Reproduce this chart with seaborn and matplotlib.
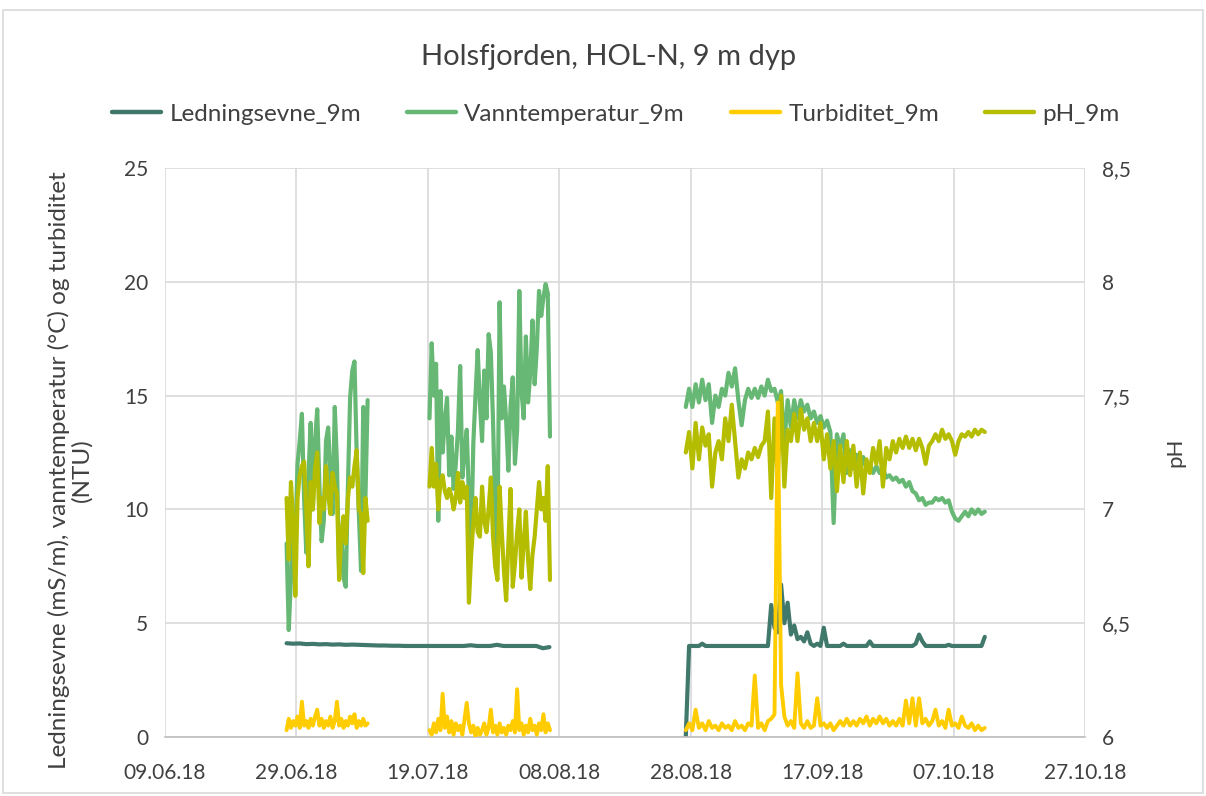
import numpy as np
import pandas as pd
import matplotlib
matplotlib.use("Agg")
import matplotlib.pyplot as plt
import matplotlib.dates as mdates
from matplotlib.lines import Line2D
from matplotlib.patches import Rectangle
import seaborn as sns

# ==================== data ====================
# periods: (start, step) for each logger deployment
P1 = ("2018-06-27 12:00", "8h")
P2 = ("2018-07-19 06:00", "8h")
P3 = ("2018-08-27 06:00", "12h")
P_COND1 = ("2018-06-27 12:00", "1D")

temp_p1 = [8.5, 4.7, 7.0, 9.5, 8.6, 12.0, 13.0, 14.2, 10.5, 8.1, 11.5, 13.8, 10.0,
           13.0, 14.4, 11.0, 8.6, 9.5, 13.0, 13.6, 11.5, 9.8, 14.5, 12.0, 7.2, 9.0,
           7.0, 6.6, 11.0, 14.9, 16.1, 16.5, 12.5, 9.8, 7.3, 14.5, 10.5, 14.8]
temp_p2 = [14.0, 17.3, 15.0, 16.4, 9.5, 15.2, 12.5, 13.9, 14.9, 11.5, 13.2, 10.9,
           12.0, 13.5, 16.3, 11.4, 12.5, 13.5, 10.5, 8.3, 12.9, 15.0, 17.0, 14.7,
           13.0, 16.1, 14.0, 17.7, 16.9, 13.9, 10.0, 8.2, 19.1, 14.0, 15.4, 13.9,
           11.7, 14.5, 15.8, 12.0, 13.5, 19.6, 15.2, 14.0, 17.6, 14.7, 16.0, 18.3,
           15.5, 17.1, 19.6, 18.5, 19.3, 19.9, 19.5, 13.2]
temp_p3 = [14.5, 15.3, 14.5, 15.5, 14.7, 15.7, 14.8, 15.5, 13.8, 15.0, 14.5, 15.3,
           15.0, 16.0, 15.4, 16.2, 14.8, 13.7, 14.8, 15.3, 14.9, 15.3, 14.9, 15.4,
           15.0, 15.7, 15.2, 15.3, 14.7, 15.2, 12.9, 14.8, 13.6, 14.8, 14.0, 14.8,
           14.3, 14.6, 14.0, 14.3, 13.8, 14.1, 13.6, 13.9, 13.4, 9.4, 13.3, 12.7,
           13.3, 11.6, 12.6, 11.8, 12.4, 11.7, 12.3, 11.8, 12.0, 11.6, 11.9, 11.6,
           11.8, 11.4, 11.5, 11.3, 11.4, 11.2, 11.3, 11.0, 11.2, 10.8, 10.7, 10.4,
           10.5, 10.2, 10.3, 10.3, 10.5, 10.4, 10.5, 10.3, 10.4, 9.9, 9.6, 9.5,
           9.7, 9.9, 9.7, 10.0, 9.8, 10.0, 9.8, 9.9]

ph_p1 = [7.05, 6.78, 7.12, 6.95, 6.62, 7.05, 7.15, 7.19, 7.21, 7.00, 6.75, 7.12,
         7.00, 7.18, 7.25, 6.94, 7.05, 7.00, 7.19, 7.07, 6.98, 7.16, 7.10, 7.07,
         6.69, 6.90, 6.97, 6.85, 7.05, 7.14, 7.10, 7.19, 7.26, 7.00, 6.98, 6.72,
         7.05, 6.95]
ph_p2 = [7.10, 7.27, 7.10, 7.20, 7.00, 7.12, 7.15, 7.08, 7.05, 7.09, 7.06, 7.00,
         7.05, 7.16, 7.03, 7.12, 7.05, 7.10, 6.59, 6.80, 6.94, 7.05, 6.90, 6.88,
         7.10, 6.95, 6.90, 7.00, 7.14, 6.88, 6.75, 6.69, 7.10, 6.90, 6.73, 6.60,
         6.85, 7.09, 6.66, 6.76, 6.90, 7.00, 6.70, 6.85, 6.99, 6.78, 6.65, 6.80,
         6.88, 7.00, 7.12, 7.00, 7.05, 6.95, 7.19, 6.69]
ph_p3 = [7.25, 7.34, 7.18, 7.38, 7.22, 7.36, 7.28, 7.33, 7.10, 7.25, 7.30, 7.22,
         7.40, 7.30, 7.46, 7.30, 7.14, 7.22, 7.18, 7.25, 7.22, 7.27, 7.23, 7.28,
         7.30, 7.43, 7.05, 7.40, 7.15, 7.50, 7.10, 7.35, 7.30, 7.42, 7.30, 7.44,
         7.35, 7.40, 7.30, 7.38, 7.30, 7.38, 7.22, 7.33, 7.18, 7.30, 7.08, 7.28,
         7.12, 7.30, 7.15, 7.28, 7.10, 7.25, 7.07, 7.22, 7.16, 7.27, 7.20, 7.30,
         7.10, 7.27, 7.22, 7.30, 7.25, 7.31, 7.27, 7.32, 7.27, 7.31, 7.26, 7.31,
         7.27, 7.20, 7.28, 7.30, 7.33, 7.30, 7.35, 7.31, 7.33, 7.30, 7.24, 7.30,
         7.33, 7.32, 7.34, 7.32, 7.35, 7.33, 7.35, 7.34]

turb_p1 = [0.3, 0.8, 0.4, 0.7, 0.5, 0.9, 0.4, 1.55, 0.5, 0.7, 0.4, 0.8, 0.5, 0.9,
           1.2, 0.5, 0.8, 0.4, 0.7, 0.5, 0.9, 0.4, 0.7, 1.55, 0.5, 0.8, 0.4, 0.7,
           0.5, 0.9, 0.6, 1.0, 0.4, 0.7, 0.5, 0.8, 0.5, 0.6]
turb_p2 = [0.3, 0.1, 0.6, 0.2, 0.8, 0.3, 1.9, 0.4, 0.9, 0.2, 0.7, 0.1, 0.6, 0.3,
           0.5, 0.1, 0.8, 1.5, 0.6, 0.2, 0.5, 0.0, 0.4, 0.1, 0.3, 0.6, 0.1, 0.4,
           1.2, 0.2, 0.5, 0.1, 0.6, 0.2, 0.4, 0.1, 0.5, 0.3, 0.7, 0.2, 2.1, 0.3,
           0.6, 0.1, 0.5, 0.2, 0.8, 0.3, 0.5, 0.1, 0.6, 0.3, 1.0, 0.2, 0.6, 0.3]
turb_p3 = [0.3, 0.6, 0.3, 1.2, 0.4, 0.6, 0.3, 0.7, 0.4, 0.5, 0.3, 0.6, 0.4, 0.5,
           0.3, 0.7, 0.4, 0.5, 0.3, 0.6, 0.5, 2.7, 0.4, 0.6, 0.3, 0.7, 0.8, 1.0,
           14.7, 2.3, 0.9, 0.5, 0.7, 0.4, 2.8, 0.6, 0.4, 0.7, 0.4, 0.5, 1.7, 0.5,
           0.6, 0.4, 0.6, 0.3, 0.5, 0.7, 0.5, 0.8, 0.5, 0.7, 0.5, 0.8, 0.6, 0.9,
           0.5, 0.8, 0.6, 0.9, 0.6, 0.8, 0.5, 0.7, 0.5, 0.8, 0.5, 1.6, 0.6, 1.7,
           0.5, 1.7, 0.6, 0.8, 0.5, 0.7, 1.2, 0.5, 0.7, 0.4, 1.2, 0.5, 0.6, 0.4,
           0.9, 0.5, 0.4, 0.6, 0.3, 0.5, 0.3, 0.4]

cond_p1 = [4.12, 4.10, 4.11, 4.08, 4.09, 4.07, 4.08, 4.06, 4.07, 4.05, 4.06, 4.05,
           4.04, 4.03, 4.02, 4.02, 4.01, 4.01, 4.00, 4.00, 4.00, 4.00, 4.00, 4.00,
           4.00, 4.00, 4.00, 4.00, 4.03, 4.00, 4.00, 4.00, 4.05, 4.00, 4.00, 4.00,
           4.00, 4.00, 4.00, 3.90, 3.95]
cond_p3 = [0.0, 4.0, 4.0, 4.0, 4.0, 4.1, 4.0, 4.0, 4.0, 4.0, 4.0, 4.0, 4.0, 4.0,
           4.0, 4.0, 4.0, 4.0, 4.0, 4.0, 4.0, 4.0, 4.0, 4.0, 4.0, 4.0, 5.8, 4.8,
           4.6, 6.7, 5.0, 5.9, 4.5, 4.9, 4.3, 4.4, 4.2, 4.6, 4.1, 4.0, 4.1, 4.0,
           4.8, 4.0, 4.0, 4.0, 4.0, 4.0, 4.1, 4.0, 4.0, 4.0, 4.0, 4.0, 4.0, 4.0,
           4.2, 4.0, 4.0, 4.0, 4.0, 4.0, 4.0, 4.0, 4.0, 4.0, 4.0, 4.0, 4.0, 4.0,
           4.1, 4.5, 4.2, 4.0, 4.0, 4.0, 4.0, 4.0, 4.0, 4.0, 4.05, 4.0, 4.0, 4.0,
           4.0, 4.0, 4.0, 4.0, 4.0, 4.0, 4.0, 4.4]

x_ticks = pd.date_range("2018-06-09", "2018-10-27", freq="20D")
left_ticks = [0, 5, 10, 15, 20, 25]
right_ticks = [6, 6.5, 7, 7.5, 8, 8.5]

labels = ["Ledningsevne_9m", "Vanntemperatur_9m", "Turbiditet_9m", "pH_9m"]
colors = ["#41786c", "#66b874", "#ffcc00", "#b5bd00"]


def build(parts):
    frames = []
    for k, ((start, step), vals) in enumerate(parts):
        t = pd.date_range(start, periods=len(vals), freq=step)
        frames.append(pd.DataFrame({"tid": t, "verdi": vals, "seg": k}))
    return pd.concat(frames, ignore_index=True)


df_cond = build([(P_COND1, cond_p1), (P3, cond_p3)])
df_temp = build([(P1, temp_p1), (P2, temp_p2), (P3, temp_p3)])
df_turb = build([(P1, turb_p1), (P2, turb_p2), (P3, turb_p3)])
df_ph = build([(P1, ph_p1), (P2, ph_p2), (P3, ph_p3)])

# ==================== figure ====================
sns.set_theme(style="white")
plt.rcParams["font.family"] = ["Lato", "DejaVu Sans"]
txt = "#404040"

fig = plt.figure(figsize=(12.06, 7.96), dpi=100)
fig.patches.append(Rectangle((3 / 1206, 3 / 796), 1200 / 1206, 783 / 796,
                             transform=fig.transFigure, fill=False,
                             edgecolor="#d9d9d9", lw=1.2))
rect = [165 / 1206, 1 - 737 / 796, 920 / 1206, 569 / 796]
ax = fig.add_axes(rect)
ax2 = ax.twinx()
ax3 = ax.twinx()  # turbidity drawn on top, same scale as left axis

lw = 3.0
sns.lineplot(data=df_cond, x="tid", y="verdi", units="seg", estimator=None,
             color=colors[0], lw=lw, ax=ax)
sns.lineplot(data=df_temp, x="tid", y="verdi", units="seg", estimator=None,
             color=colors[1], lw=lw, ax=ax)
sns.lineplot(data=df_ph, x="tid", y="verdi", units="seg", estimator=None,
             color=colors[3], lw=lw, ax=ax2)
sns.lineplot(data=df_turb, x="tid", y="verdi", units="seg", estimator=None,
             color=colors[2], lw=2.8, ax=ax3)

xmin, xmax = pd.Timestamp("2018-06-09"), pd.Timestamp("2018-10-27")
for a in (ax, ax2, ax3):
    a.set_xlim(xmin, xmax)
    for s in a.spines.values():
        s.set_visible(False)
ax.set_ylim(0, 25)
ax3.set_ylim(0, 25)
ax2.set_ylim(6, 8.5)
ax3.set_yticks([])
ax3.set_ylabel("")

ax.set_xticks(x_ticks)
ax.xaxis.set_major_formatter(mdates.DateFormatter("%d.%m.%y"))
ax.set_yticks(left_ticks)
ax2.set_yticks(right_ticks)
ax2.set_yticklabels([f"{v:g}".replace(".", ",") for v in right_ticks])

ax.grid(True, color="#d9d9d9", lw=1.2)
ax.spines["bottom"].set_visible(True)
ax.spines["bottom"].set_color("#bfbfbf")
ax.spines["bottom"].set_linewidth(1.2)
ax.tick_params(axis="both", length=0, labelsize=15, colors=txt)
ax.tick_params(axis="x", pad=19)
ax.tick_params(axis="y", pad=12)
ax2.tick_params(axis="y", length=0, labelsize=15, colors=txt, pad=12)

ax.set_xlabel("")
ax.set_ylabel("")
ax2.set_ylabel("")
fig.text(70 / 1206, 1 - 470 / 796,
         "Ledningsevne (mS/m), vanntemperatur (°C) og turbiditet\n(NTU)",
         rotation=90, ha="center", va="center", multialignment="center",
         fontsize=17.5, color=txt, linespacing=1.05)
fig.text(1175 / 1206, 1 - 452 / 796, "pH", rotation=90, ha="center",
         va="center", fontsize=16, color=txt)

fig.text(0.505, 1 - 57 / 796, "Holsfjorden, HOL-N, 9 m dyp", ha="center",
         va="center", fontsize=21, color=txt)

handles = [Line2D([0], [0], color=c, lw=3.2) for c in colors]
fig.legend(handles, labels, loc="center", bbox_to_anchor=(616 / 1206, 1 - 114 / 796),
           ncol=4, frameon=False, fontsize=17.5, handlelength=2.0,
           columnspacing=1.9, handletextpad=0.35, labelcolor=txt)

fig.savefig("out.png", dpi=100)
